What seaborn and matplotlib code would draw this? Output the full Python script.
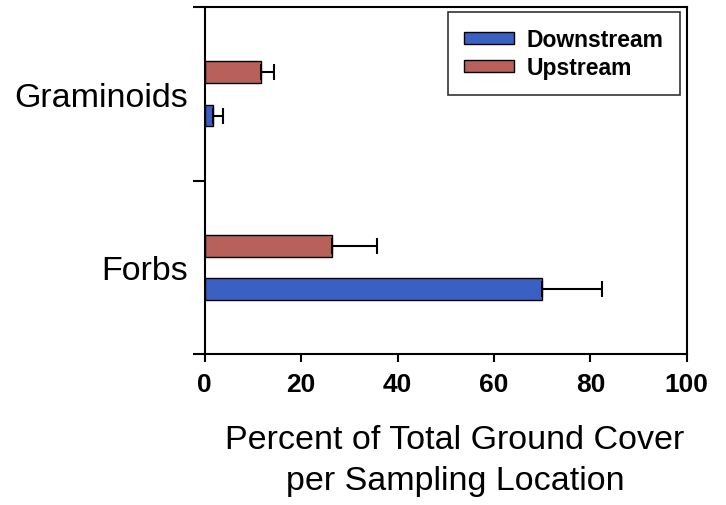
import pandas as pd
import seaborn as sns
import matplotlib.pyplot as plt
from matplotlib.ticker import FixedLocator

categories = ["Graminoids", "Forbs"]
upstream = [11.6, 26.5]
upstream_err = [2.7, 9.3]
downstream = [1.7, 70.0]
downstream_err = [2.0, 12.4]
x_ticks = [0, 20, 40, 60, 80, 100]

df = pd.DataFrame({
    "cover": upstream + downstream,
    "type": categories * 2,
    "site": ["Upstream"] * 2 + ["Downstream"] * 2,
})
errs = {"Upstream": upstream_err, "Downstream": downstream_err}

sns.set_style("white")
plt.rcParams['font.family'] = ['Liberation Sans', 'DejaVu Sans']
plt.rcParams['text.color'] = 'black'
plt.rcParams['axes.labelcolor'] = 'black'
plt.rcParams['xtick.color'] = 'black'
plt.rcParams['ytick.color'] = 'black'

fig, ax = plt.subplots(figsize=(7.26, 5.06), dpi=100)
fig.subplots_adjust(left=0.282, right=0.946, top=0.984, bottom=0.298)

sns.barplot(data=df, x="cover", y="type", hue="site", orient="h",
            order=categories, hue_order=["Upstream", "Downstream"],
            palette={"Upstream": "#b8605a", "Downstream": "#3a60c4"},
            saturation=1, width=0.5, gap=0.5, errorbar=None,
            edgecolor="black", linewidth=1.0, ax=ax)

# one-sided error bars, placed on the bars seaborn drew
for cont, site in zip(ax.containers, ["Upstream", "Downstream"]):
    ys = [p.get_y() + p.get_height() / 2 for p in cont.patches]
    xs = [p.get_width() for p in cont.patches]
    e = errs[site]
    ax.errorbar(xs, ys, xerr=[[0] * len(e), e], fmt="none", ecolor="black",
                elinewidth=1.5, capsize=6, capthick=1.5, zorder=5)

ax.set_xlim(0, 100)
ax.set_ylim(1.5, -0.5)
ax.set_xticks(x_ticks)
ax.set_xticklabels([str(t) for t in x_ticks], fontsize=19, fontweight="bold")
ax.yaxis.set_minor_locator(FixedLocator([-0.5, 0.5, 1.5]))
ax.tick_params(axis="y", which="major", length=0, pad=12, labelsize=24.5)
ax.tick_params(axis="y", which="minor", length=9, width=1.5, direction="out", left=True)
ax.tick_params(axis="x", length=6, width=1.5, direction="out", bottom=True, pad=7)
ax.set_ylabel("")
ax.set_xlabel("Percent of Total Ground Cover\nper Sampling Location",
              fontsize=24.5, labelpad=20, linespacing=1.42)
ax.xaxis.label.set_x(0.519)
for s in ax.spines.values():
    s.set_visible(True)
    s.set_color("black")
    s.set_linewidth(1.5)

h, l = ax.get_legend_handles_labels()
order = [l.index("Downstream"), l.index("Upstream")]
leg = ax.legend([h[i] for i in order], [l[i] for i in order],
                loc="upper right", bbox_to_anchor=(0.985, 0.985),
                borderaxespad=0, fancybox=False, frameon=True,
                handlelength=2.2, handleheight=0.45, handletextpad=0.55,
                borderpad=0.7, labelspacing=0.2,
                prop={"size": 16.5, "weight": "bold"})
leg.get_frame().set_edgecolor("black")
leg.get_frame().set_linewidth(1.2)

fig.savefig("out.png", dpi=100)
